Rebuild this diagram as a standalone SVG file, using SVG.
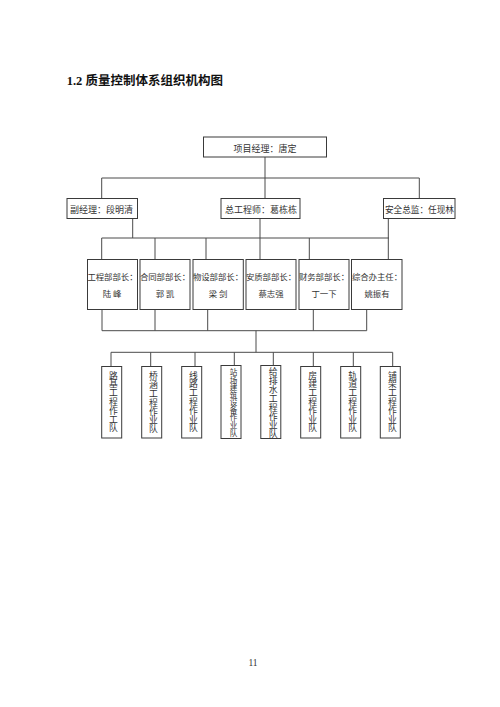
<svg xmlns="http://www.w3.org/2000/svg" width="500" height="707" viewBox="0 0 500 707">
<style>
.bg{fill:#fff}
.box{fill:#fff;stroke:#3a3a3a;stroke-width:1}
.ln{fill:none;stroke:#4a4a4a;stroke-width:1}
.t{font-family:"Noto Sans CJK SC","Noto Sans CJK JP",sans-serif;fill:#333;font-size:9px}
.m{font-size:8.4px}
.c{text-anchor:middle}
.v{writing-mode:vertical-rl;font-size:8.8px}
.title{font-family:"Liberation Serif","Noto Sans CJK SC",serif;font-weight:bold;font-size:12.5px;fill:#111}
.pg{font-family:"Liberation Serif",serif;font-size:9.5px;fill:#333;text-anchor:middle}
</style>
<rect class="bg" x="0" y="0" width="500" height="707"/>
<text class="title" x="66.7" y="85.4">1.2 <tspan font-family="Noto Sans CJK SC, sans-serif">质量控制体系组织机构图</tspan></text>

<g id="connectors">
<path class="ln" d="M265 157V198M101.7 178H419.3M101.7 178V198M419.3 178V198"/>
<path class="ln" d="M132.7 218V238M260 218V238M388.3 218V238M101.7 238H389M101.7 238V259M155 238V259M206 238V259M260 238V259M309.3 238V259M388.3 238V259"/>
<path class="ln" d="M102 309V330.7M155 309V330.7M207.7 309V330.7M313.3 309V330.7M366.7 309V330.7M102 330.7H366.7M256 330.7V352.3M111 352.3H392.7M111 352.3V366.5M150.7 352.3V366.5M195 352.3V366.5M234.3 352.3V365.5M273.3 352.3V365.5M313.3 352.3V366.5M353.3 352.3V366.5M392.7 352.3V366.5"/>
</g>

<g id="pm">
<rect class="box" x="203.5" y="137" width="123" height="20"/>
<text class="t c" x="265" y="151.7">项目经理：唐定</text>
</g>

<g id="deputy">
<rect class="box" x="67" y="198.5" width="70.5" height="20"/>
<text class="t c" x="101.5" y="212.7">副经理：段明清</text>
</g>
<g id="chief-eng">
<rect class="box" x="221" y="198.5" width="79" height="20"/>
<text class="t c" x="261" y="212.7">总工程师：葛栋栋</text>
</g>
<g id="safety">
<rect class="box" x="383.5" y="198.5" width="71.5" height="20"/>
<text class="t" x="385" y="212.7" textLength="69" lengthAdjust="spacingAndGlyphs">安全总监：任现林</text>
</g>

<g id="dept-eng">
<rect class="box" x="87.5" y="259.5" width="50" height="50"/>
<text class="t m c" x="112.5" y="279.9">工程部部长：</text>
<text class="t m c" x="112" y="296.5">陆 峰</text>
</g>
<g id="dept-contract">
<rect class="box" x="140" y="259.5" width="50" height="50"/>
<text class="t m c" x="165" y="279.9">合同部部长：</text>
<text class="t m c" x="165" y="296.5">郭 凯</text>
</g>
<g id="dept-material">
<rect class="box" x="193" y="259.5" width="50.3" height="50"/>
<text class="t m c" x="218" y="279.9">物设部部长：</text>
<text class="t m c" x="218" y="296.5">梁 剑</text>
</g>
<g id="dept-quality">
<rect class="box" x="246" y="259.5" width="50" height="50"/>
<text class="t m c" x="271" y="279.9">安质部部长：</text>
<text class="t m c" x="271" y="296.5">蔡志强</text>
</g>
<g id="dept-finance">
<rect class="box" x="299" y="259.5" width="50" height="50"/>
<text class="t m c" x="324" y="279.9">财务部部长：</text>
<text class="t m c" x="324" y="296.5">丁一下</text>
</g>
<g id="dept-office">
<rect class="box" x="351.5" y="259.5" width="50.5" height="50"/>
<text class="t m c" x="377" y="279.9">综合办主任：</text>
<text class="t m c" x="377" y="296.5">姚振有</text>
</g>

<g id="team-subgrade">
<rect class="box" x="101.7" y="366.5" width="20" height="71.5"/>
<text class="t v" x="113.5" y="370.8">路基工程作工队</text>
</g>
<g id="team-bridge">
<rect class="box" x="141.7" y="366.5" width="20" height="71.5"/>
<text class="t v" x="153.5" y="371.6">桥涵工程作业队</text>
</g>
<g id="team-line">
<rect class="box" x="181.7" y="366.5" width="20" height="71.5"/>
<text class="t v" x="193.5" y="370.8">线路工程作业队</text>
</g>
<g id="team-station">
<rect class="box" x="221" y="365.5" width="20" height="73"/>
<text class="t v" x="233.5" y="368.5" style="font-size:7.55px">站场建筑设备作业队</text>
</g>
<g id="team-water">
<rect class="box" x="260.8" y="365.5" width="20" height="73"/>
<text class="t v" x="273.3" y="367.3" style="font-size:8.9px">给排水工程作业队</text>
</g>
<g id="team-building">
<rect class="box" x="300.7" y="366.5" width="20" height="71.5"/>
<text class="t v" x="312.7" y="370.8">房建工程作业队</text>
</g>
<g id="team-track">
<rect class="box" x="340.7" y="366.5" width="20" height="71.5"/>
<text class="t v" x="352.7" y="370.8">轨道工程作业队</text>
</g>
<g id="team-laying">
<rect class="box" x="380.3" y="366.5" width="20" height="71.5"/>
<text class="t v" x="392.3" y="370.8">铺架工程作业队</text>
</g>

<text class="pg" x="253" y="666">11</text>
</svg>
